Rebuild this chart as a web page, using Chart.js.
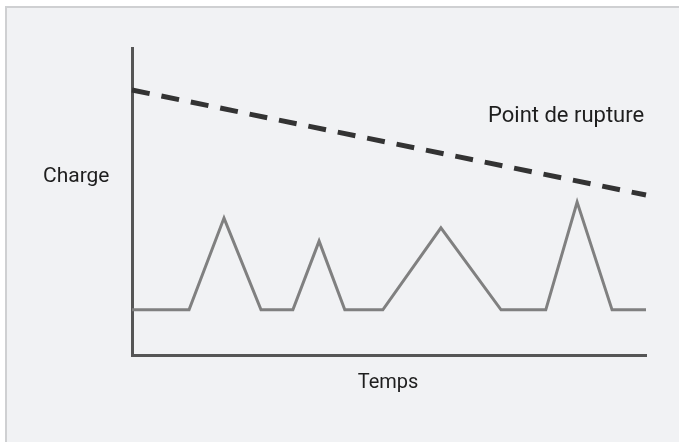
<!DOCTYPE html>
<html>
<head>
<meta charset="utf-8">
<script src="https://cdn.jsdelivr.net/npm/chart.js@4/dist/chart.umd.min.js"></script>
<style>
  html, body { margin: 0; padding: 0; background: #fff; }
  #wrap { position: relative; width: 679px; height: 442px; overflow: hidden; }
  #panel { position: absolute; left: 5px; top: 6px; width: 700px; height: 460px;
           background: #f1f2f4; border: 2px solid #cfd0d2; }
  canvas { position: absolute; left: 0; top: 0; }
</style>
</head>
<body>
<div id="wrap">
  <div id="panel"></div>
  <canvas id="myChart" width="679" height="442"></canvas>
</div>
<script>
// time axis runs 0..100, charge axis 0..100
const loadTimes  = [0, 11.1, 17.9, 25.1, 31.3, 36.4, 41.4, 48.8, 60.1, 71.8, 80.5, 86.6, 93.4, 100];
const loadValues = [14.7, 14.7, 44.6, 14.7, 14.7, 37.1, 14.7, 14.7, 41.4, 14.7, 14.7, 49.8, 14.7, 14.7];
const breakTimes  = [0, 100];
const breakValues = [86.3, 52.1];
const xTitle = 'Temps';
const yTitle = 'Charge';
const breakLabel = 'Point de rupture';

const toPoints = (xs, ys) => xs.map((x, i) => ({ x: x, y: ys[i] }));

const labelsPlugin = {
  id: 'labels',
  afterDraw(chart) {
    const ctx = chart.ctx;
    ctx.save();
    ctx.fillStyle = '#1e1e1e';
    ctx.textBaseline = 'middle';
    ctx.textAlign = 'left';
    ctx.font = '21px Roboto';
    ctx.fillText(yTitle, 43, 177);
    ctx.font = '22px Roboto';
    ctx.fillText(breakLabel, 488, 116);
    ctx.textAlign = 'center';
    ctx.font = '20px Roboto';
    ctx.fillText(xTitle, 388, 383);
    ctx.restore();
  }
};

const ctx = document.getElementById('myChart').getContext('2d');
const myChart = new Chart(ctx, {
  type: 'line',
  data: {
    datasets: [
      {
        label: 'Charge',
        data: toPoints(loadTimes, loadValues),
        borderColor: '#808080',
        borderWidth: 3,
        pointRadius: 0,
        tension: 0,
        borderJoinStyle: 'miter'
      },
      {
        label: breakLabel,
        data: toPoints(breakTimes, breakValues),
        borderColor: '#333333',
        borderWidth: 5,
        borderDash: [18, 12],
        pointRadius: 0,
        tension: 0
      }
    ]
  },
  options: {
    responsive: false,
    animation: false,
    clip: false,
    layout: { padding: { left: 132, top: 48, right: 33, bottom: 87 } },
    plugins: { legend: { display: false }, tooltip: { enabled: false } },
    scales: {
      x: {
        type: 'linear', min: 0, max: 100,
        grid: { display: false },
        ticks: { display: false },
        border: { color: '#555', width: 3 },
        afterFit: s => { s.height = 0; }
      },
      y: {
        type: 'linear', min: 0, max: 100,
        grid: { display: false },
        ticks: { display: false },
        border: { color: '#555', width: 3 },
        afterFit: s => { s.width = 0; }
      }
    }
  },
  plugins: [labelsPlugin]
});
</script>
</body>
</html>
